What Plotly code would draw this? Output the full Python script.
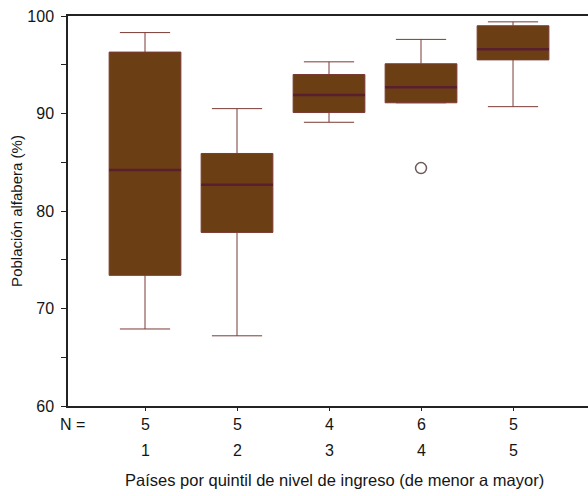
import plotly.graph_objects as go

# Literacy by income quintile: box statistics per quintile
quintiles = [1, 2, 3, 4, 5]
n_countries = [5, 5, 4, 6, 5]
lower_whisker = [67.9, 67.2, 89.1, 91.1, 90.7]
q1 = [73.4, 77.8, 90.1, 91.1, 95.5]
median = [84.2, 82.7, 91.9, 92.7, 96.6]
q3 = [96.3, 85.9, 94.0, 95.1, 99.0]
upper_whisker = [98.3, 90.5, 95.3, 97.6, 99.4]
outlier_quintile = [4]
outlier_value = [84.4]

FONT = "Liberation Sans, Arial, sans-serif"
FILL = "#6b3e14"
EDGE = "#7b3b35"
MEDIAN = "#5a1f2e"
BOX_W = 0.78
TXT = "#151515"

fig = go.Figure()

fig.add_trace(go.Box(
    x=quintiles,
    q1=q1, median=median, q3=q3,
    lowerfence=lower_whisker, upperfence=upper_whisker,
    fillcolor=FILL,
    line=dict(color=EDGE, width=1),
    width=BOX_W,
    whiskerwidth=0.7,
    boxpoints=False,
    hoverinfo="skip",
    showlegend=False,
))

# Median bars drawn on top in a darker tone
mx, my = [], []
for c, m in zip(quintiles, median):
    mx += [c - BOX_W / 2, c + BOX_W / 2, None]
    my += [m, m, None]
fig.add_trace(go.Scatter(
    x=mx, y=my, mode="lines",
    line=dict(color=MEDIAN, width=2.5),
    hoverinfo="skip", showlegend=False,
))

# Outlying country
fig.add_trace(go.Scatter(
    x=outlier_quintile, y=outlier_value, mode="markers",
    marker=dict(symbol="circle-open", size=11, color="#6e5a5a",
                line=dict(width=1.5, color="#6e5a5a")),
    hoverinfo="skip", showlegend=False,
))

annotations = [dict(
    x=0.0087, y=-0.0487, xref="paper", yref="paper",
    text="N =", showarrow=False, xanchor="center", yanchor="middle",
    font=dict(family=FONT, size=16, color=TXT),
)]
for c, n in zip(quintiles, n_countries):
    annotations.append(dict(
        x=c, y=-0.0487, xref="x", yref="paper", text=str(n),
        showarrow=False, xanchor="center", yanchor="middle",
        font=dict(family=FONT, size=16, color=TXT),
    ))
    annotations.append(dict(
        x=c, y=-0.113, xref="x", yref="paper", text=str(c),
        showarrow=False, xanchor="center", yanchor="middle",
        font=dict(family=FONT, size=16, color=TXT),
    ))
annotations.append(dict(
    x=0.513, y=-0.19, xref="paper", yref="paper",
    text="Países por quintil de nivel de ingreso (de menor a mayor)",
    showarrow=False, xanchor="center", yanchor="middle",
    font=dict(family=FONT, size=16.5, color=TXT),
))

fig.update_layout(
    width=588, height=496,
    margin=dict(l=68, r=0, t=16, b=90),
    paper_bgcolor="white", plot_bgcolor="white",
    font=dict(family=FONT, size=16, color=TXT),
    annotations=annotations,
    xaxis=dict(
        range=[0.163, 5.815],
        tickvals=quintiles, showticklabels=False,
        ticks="outside", ticklen=3, tickcolor="#222",
        showline=True, linecolor="#222", linewidth=1.5, mirror=True,
        showgrid=False, zeroline=False, fixedrange=True,
    ),
    yaxis=dict(
        range=[60, 100],
        tickvals=[60, 70, 80, 90, 100],
        ticks="outside", ticklen=5, tickcolor="#222",
        ticklabelstandoff=4,
        minor=dict(tickvals=[65, 75, 85, 95], ticks="outside", ticklen=5, tickcolor="#222"),
        showline=True, linecolor="#222", linewidth=1.5,
        showgrid=False, zeroline=False,
        title=dict(text="Población alfabera (%)", standoff=1,
                   font=dict(family=FONT, size=15, color=TXT)),
        tickfont=dict(family=FONT, size=16, color=TXT),
    ),
)

fig.write_html("out.html")
